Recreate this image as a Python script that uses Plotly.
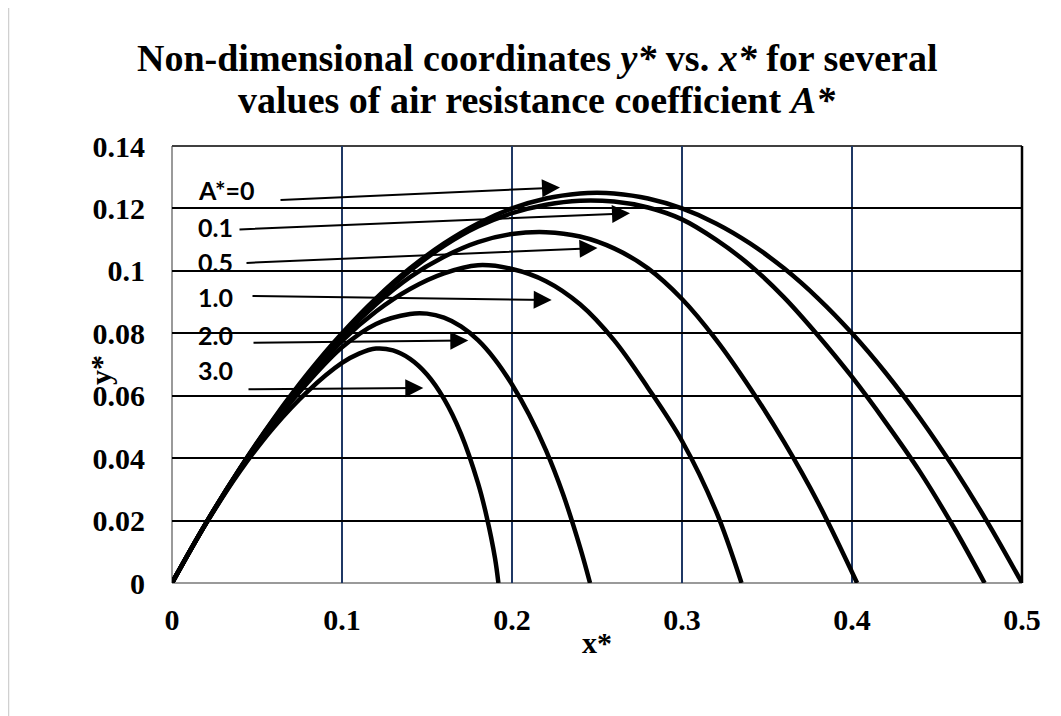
import plotly.graph_objects as go

# ---- data ----
labels = ["A*=0", "0.1", "0.5", "1.0", "2.0", "3.0"]

x_a0 = [0, 0.02, 0.04, 0.06, 0.08, 0.10, 0.12, 0.14, 0.16, 0.18, 0.20, 0.22, 0.24, 0.25, 0.26, 0.28, 0.30, 0.32, 0.34, 0.36, 0.38, 0.40, 0.42, 0.44, 0.46, 0.48, 0.50]
y_a0 = [0, 0.0192, 0.0368, 0.0528, 0.0672, 0.0800, 0.0912, 0.1008, 0.1088, 0.1152, 0.1200, 0.1232, 0.1248, 0.1250, 0.1248, 0.1232, 0.1200, 0.1152, 0.1088, 0.1008, 0.0912, 0.0800, 0.0672, 0.0528, 0.0368, 0.0192, 0]

x_a01 = [0, 0.02, 0.04, 0.06, 0.08, 0.10, 0.12, 0.14, 0.16, 0.18, 0.20, 0.22, 0.24, 0.26, 0.28, 0.30, 0.32, 0.34, 0.36, 0.38, 0.40, 0.42, 0.44, 0.46, 0.478]
y_a01 = [0, 0.0192, 0.0367, 0.0525, 0.0667, 0.0795, 0.0905, 0.1000, 0.1080, 0.1142, 0.1185, 0.1212, 0.1225, 0.1222, 0.1203, 0.1165, 0.1100, 0.1018, 0.0915, 0.0793, 0.0660, 0.0513, 0.0356, 0.0177, 0]

x_a05 = [0, 0.02, 0.04, 0.06, 0.08, 0.10, 0.12, 0.14, 0.16, 0.18, 0.20, 0.22, 0.24, 0.26, 0.28, 0.30, 0.32, 0.34, 0.36, 0.38, 0.403]
y_a05 = [0, 0.0192, 0.0366, 0.0522, 0.0662, 0.0788, 0.0893, 0.0980, 0.1045, 0.1092, 0.1118, 0.1124, 0.1110, 0.1072, 0.1008, 0.0910, 0.0780, 0.0625, 0.0452, 0.0258, 0]

x_a1 = [0, 0.02, 0.04, 0.06, 0.08, 0.10, 0.12, 0.14, 0.16, 0.18, 0.20, 0.22, 0.24, 0.26, 0.28, 0.30, 0.32, 0.335]
y_a1 = [0, 0.0192, 0.0365, 0.0520, 0.0656, 0.0776, 0.0870, 0.0942, 0.0992, 0.1018, 0.1006, 0.0967, 0.0893, 0.0778, 0.0625, 0.0455, 0.0230, 0]

x_a2 = [0, 0.02, 0.04, 0.06, 0.08, 0.10, 0.12, 0.14, 0.15, 0.16, 0.17, 0.18, 0.19, 0.20, 0.21, 0.22, 0.23, 0.24, 0.2459]
y_a2 = [0, 0.0191, 0.0362, 0.0512, 0.0643, 0.0755, 0.0830, 0.0862, 0.0863, 0.0850, 0.0822, 0.0778, 0.0716, 0.0636, 0.0540, 0.0425, 0.0285, 0.0115, 0]

x_a3 = [0, 0.02, 0.04, 0.06, 0.08, 0.10, 0.11, 0.12, 0.13, 0.14, 0.15, 0.16, 0.17, 0.18, 0.185, 0.19, 0.192]
y_a3 = [0, 0.0190, 0.0358, 0.0500, 0.0615, 0.0705, 0.0735, 0.0751, 0.0745, 0.0718, 0.0668, 0.0590, 0.0478, 0.0320, 0.0215, 0.0080, 0]

series_x = [x_a0, x_a01, x_a05, x_a1, x_a2, x_a3]
series_y = [y_a0, y_a01, y_a05, y_a1, y_a2, y_a3]

x_ticks = [0, 0.1, 0.2, 0.3, 0.4, 0.5]
y_ticks = [0, 0.02, 0.04, 0.06, 0.08, 0.1, 0.12, 0.14]

title_lines = ["<b>Non-dimensional coordinates <i>y*</i> vs. <i>x*</i> for several</b>",
               "<b>values of air resistance coefficient <i>A*</i></b>"]

# ---- layout constants (pixels, reference image geometry) ----
W, H = 1061, 716
L, R, T, B = 172, 1022, 146, 583
OFF = 8  # page body margin in the browser
XMAX, YMAX = 0.5, 0.14


def px2x(px):
    return (px - L) / (R - L) * XMAX


def py2y(py):
    return (B - py) / (B - T) * YMAX


def ppx(px):
    return (px - L) / (R - L)


def ppy(py):
    return (B - py) / (B - T)


fig = go.Figure()
for xs, ys, name in zip(series_x, series_y, labels):
    fig.add_trace(go.Scatter(x=xs, y=ys, mode="lines", name=name,
                             line=dict(color="black", width=4.5, shape="spline", smoothing=1.0),
                             hoverinfo="skip"))

serif = "Liberation Serif, Times New Roman, serif"
sans = "Lato, Open Sans, sans-serif"

# label positions / arrows (pixel geometry)
label_pos = [(196, 190), (196, 227), (196, 262), (196, 297), (196, 335), (196, 370)]
arrows = [((279, 200), (560, 187.5)),
          ((238, 229.5), (630, 213.3)),
          ((245, 263), (597.5, 248)),
          ((251, 296), (551.7, 300)),
          ((252, 342.7), (468.3, 340.5)),
          ((247, 389.3), (423.3, 388))]

annotations = []
for (lx, ly), name in zip(label_pos, labels):
    annotations.append(dict(x=px2x(lx), y=py2y(ly), xref="x", yref="y", text="<b>%s</b>" % name,
                            showarrow=False, xanchor="left", yanchor="middle",
                            font=dict(family=sans, size=25, color="black")))
for (tail, tip) in arrows:
    annotations.append(dict(x=px2x(tip[0]), y=py2y(tip[1]), ax=px2x(tail[0]), ay=py2y(tail[1]),
                            xref="x", yref="y", axref="x", ayref="y", text="",
                            showarrow=True, arrowhead=2, arrowsize=1.8, arrowwidth=2,
                            arrowcolor="black", standoff=0, startstandoff=0))

# title (two lines, tight spacing)
for txt, cy in zip(title_lines, [58, 100]):
    annotations.append(dict(x=ppx(537), y=ppy(cy), xref="paper", yref="paper", text=txt,
                            showarrow=False, xanchor="center", yanchor="middle",
                            font=dict(family=serif, size=38, color="black")))

# axis titles
annotations.append(dict(x=ppx(100), y=ppy(370), xref="paper", yref="paper", text="<b>y*</b>",
                        showarrow=False, textangle=-90, font=dict(family=serif, size=30, color="black"),
                        xanchor="center", yanchor="middle"))
annotations.append(dict(x=ppx(597), y=ppy(642), xref="paper", yref="paper", text="<b>x*</b>",
                        showarrow=False, font=dict(family=serif, size=30, color="black"),
                        xanchor="center", yanchor="middle"))

shapes = [
    # plot area borders
    dict(type="line", xref="paper", yref="paper", x0=0, x1=0, y0=0, y1=1, line=dict(color="#9a9a9a", width=2), layer="below"),
    dict(type="line", xref="paper", yref="paper", x0=0, x1=1, y0=0, y1=0, line=dict(color="#9a9a9a", width=2), layer="below"),
    dict(type="line", xref="paper", yref="paper", x0=0, x1=1, y0=1, y1=1, line=dict(color="#404040", width=2), layer="below"),
    dict(type="line", xref="paper", yref="paper", x0=1, x1=1, y0=0, y1=1, line=dict(color="black", width=2.5), layer="below"),
    # outer chart border (only top & left visible)
    dict(type="rect", xref="paper", yref="paper", x0=ppx(8.5), x1=ppx(1100), y0=ppy(760), y1=ppy(5),
         line=dict(color="#d0d0d0", width=1.5), fillcolor="rgba(0,0,0,0)", layer="below"),
]

tickfont = dict(family=serif, size=30, color="black", weight="bold")

fig.update_layout(
    width=W, height=H,
    margin=dict(l=L - OFF, r=W - (R - OFF), t=T - OFF, b=H - (B - OFF), pad=0),
    paper_bgcolor="white", plot_bgcolor="white",
    showlegend=False,
    xaxis=dict(range=[0, XMAX], tickvals=x_ticks, ticktext=[("%g" % v) for v in x_ticks],
               showgrid=True, gridcolor="#1f3864", gridwidth=2, zeroline=False, showline=False,
               ticks="", ticklabelstandoff=16, tickfont=tickfont),
    yaxis=dict(range=[0, YMAX], tickvals=y_ticks, ticktext=[("%g" % v) for v in y_ticks],
               showgrid=True, gridcolor="black", gridwidth=2, zeroline=False, showline=False,
               ticks="", ticklabelstandoff=26, tickfont=tickfont),
    annotations=annotations,
    shapes=shapes,
)

fig.write_html("out.html")
